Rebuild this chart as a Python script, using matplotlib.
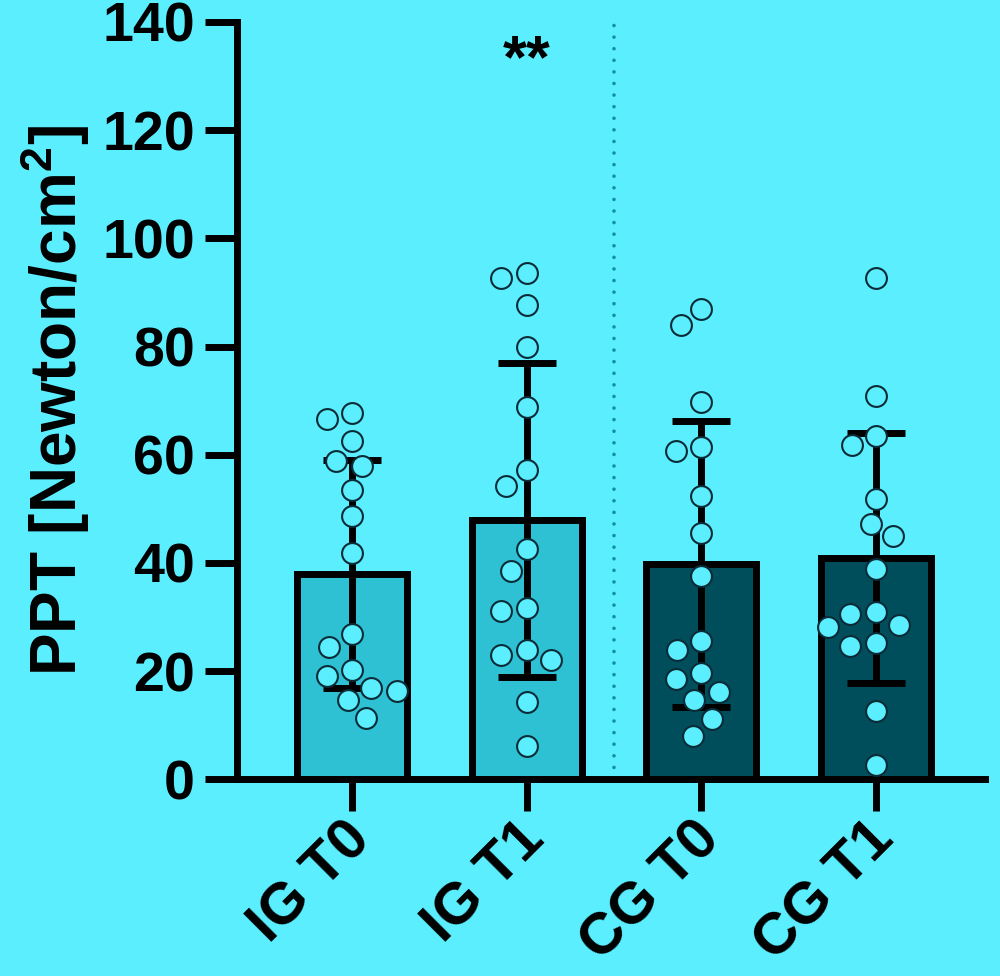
import numpy as np
import matplotlib
matplotlib.use('Agg')
import matplotlib.pyplot as plt
from matplotlib.transforms import ScaledTranslation

groups = ['IG T0', 'IG T1', 'CG T0', 'CG T1']
ig_t0 = [67.7, 66.7, 62.6, 58.8, 58.0, 53.5, 48.6, 41.9, 26.9, 24.5, 20.2, 19.1, 16.9, 16.4, 14.7, 11.3]
ig_t1 = [93.6, 92.6, 87.6, 80.0, 68.8, 57.2, 54.2, 42.5, 38.6, 31.7, 31.2, 24.0, 22.9, 22.1, 14.3, 6.2]
cg_t0 = [87.0, 83.9, 69.7, 61.5, 60.7, 52.3, 45.6, 37.6, 25.5, 24.0, 19.6, 18.5, 16.1, 14.7, 11.2, 8.0]
cg_t1 = [92.6, 70.9, 63.5, 61.8, 51.9, 47.2, 44.9, 38.9, 30.9, 30.6, 28.5, 28.2, 25.2, 24.7, 12.7, 2.7]
y_ticks = [0, 20, 40, 60, 80, 100, 120, 140]
signif = '**'

BG = '#5BEEFF'
bar_colors = ['#2EC1D3', '#2EC1D3', '#004E5C', '#004E5C']

plt.rcParams['font.family'] = ['Liberation Sans', 'DejaVu Sans']
plt.rcParams['font.weight'] = 'bold'
plt.rcParams['axes.labelweight'] = 'bold'
plt.rcParams['mathtext.fontset'] = 'custom'
plt.rcParams['mathtext.rm'] = 'Liberation Sans:bold'
plt.rcParams['mathtext.bf'] = 'Liberation Sans:bold'


def swarm(vals, d):
    # simple beeswarm in pixel units, returns x offsets
    placed = []
    out = np.zeros(len(vals))
    for i in np.argsort(vals)[::-1]:
        y = vals[i]
        cands = [0.0]
        for px, py in placed:
            dy = abs(py - y)
            if dy < d:
                dx = np.sqrt(d * d - dy * dy)
                cands += [px - dx, px + dx]
        cands.sort(key=lambda c: (abs(c), c))
        for c in cands:
            if all((c - px) ** 2 + (y - py) ** 2 >= d * d - 1e-6 for px, py in placed):
                break
        out[i] = c
        placed.append((c, y))
    return out


fig = plt.figure(figsize=(10, 9.76), dpi=100, facecolor=BG)
ax = fig.add_axes([0.2367, 0.2015, 0.7483, 0.776], facecolor=BG)

data = [np.array(v) for v in (ig_t0, ig_t1, cg_t0, cg_t1)]
x = np.arange(len(groups))
means = [d.mean() for d in data]
sds = [d.std(ddof=1) for d in data]

ax.set_xlim(-0.66, 3.624)
ax.set_ylim(0, 140)

ax.bar(x, means, width=0.63, color=bar_colors, edgecolor='black', linewidth=5, zorder=2)
ax.errorbar(x, means, yerr=sds, fmt='none', ecolor='black', elinewidth=5,
            capsize=21, capthick=5, zorder=3)

# pixel scales for the swarm
p0 = ax.transData.transform((0, 0))
p1 = ax.transData.transform((1, 1))
sx, sy = p1[0] - p0[0], p1[1] - p0[1]
for xi, d in zip(x, data):
    off = swarm(d * sy, 26.0) / sx
    ax.scatter(xi + off, d, s=15 ** 2, facecolor=BG, edgecolor='#0B2B36',
               linewidths=1.5, zorder=4, clip_on=False)

ax.axvline(1.5, color='#138EA0', lw=2.6, linestyle=(0, (0.01, 3.2)),
           dash_capstyle='round', zorder=1)

ax.text(1, 132.6, signif, ha='center', va='center', fontsize=44, fontweight='bold')

for s in ('top', 'right'):
    ax.spines[s].set_visible(False)
for s in ('left', 'bottom'):
    ax.spines[s].set_linewidth(5)

ax.set_yticks(y_ticks)
ax.set_xticks(x, groups, rotation=45, ha='right', va='center', rotation_mode='anchor')
ax.tick_params(axis='both', length=23, width=5, labelsize=40)
ax.tick_params(axis='y', pad=7)
ax.tick_params(axis='x', pad=14, labelsize=42)
shift = ScaledTranslation(7 / 72, 0, fig.dpi_scale_trans)
for lab in ax.get_xticklabels():
    lab.set_transform(lab.get_transform() + shift)

ax.set_ylabel('PPT [Newton/cm$^{2}$]', fontsize=46)
ax.yaxis.set_label_coords(-0.193, 0.5)

fig.savefig('out.png', dpi=100, facecolor=BG)
